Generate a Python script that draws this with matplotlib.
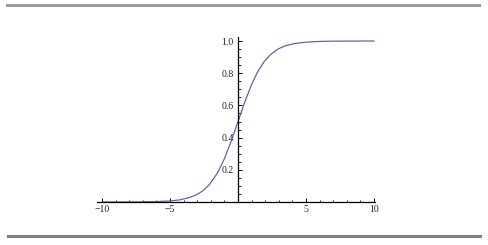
import matplotlib
matplotlib.use("Agg")
import matplotlib.pyplot as plt
from matplotlib.patches import Rectangle
from matplotlib.ticker import MultipleLocator, FixedLocator

# sample points (polyline as drawn)
x = [-10, -9, -8, -7, -6, -5, -4.3, -3.6, -3.0, -2.6, -2.1, -1.5,
     -1.0, -0.5, 0.0, 0.5, 1.0, 1.4, 1.9, 2.4, 3.0, 3.5, 4.2, 5, 6, 7, 8, 9, 10]
y = [0.0000, 0.0001, 0.0003, 0.0009, 0.0025, 0.0067, 0.013, 0.027, 0.047,
     0.069, 0.109, 0.182, 0.269, 0.378, 0.500, 0.622, 0.731, 0.802, 0.870,
     0.917, 0.953, 0.971, 0.985, 0.993, 0.9975, 0.9991, 0.9997, 0.9999, 1.0]

xticks = [-10, -5, 5, 10]
xticklabels = ["\u221210", "\u22125", "5", "10"]
yticks = [0.2, 0.4, 0.6, 0.8, 1.0]
yticklabels = ["0.2", "0.4", "0.6", "0.8", "1.0"]

W, H = 488, 245
fig = plt.figure(figsize=(W / 100, H / 100), dpi=100)
fig.patch.set_facecolor("white")

# gray rules top and bottom
fig.add_artist(Rectangle((6 / W, 1 - 6.8 / H), 475 / W, 2.8 / H,
                         transform=fig.transFigure, color="#999999", lw=0))
fig.add_artist(Rectangle((7 / W, 1 - 238 / H), 475 / W, 2.8 / H,
                         transform=fig.transFigure, color="#808080", lw=0))

ax = fig.add_axes([97 / W, (H - 202) / H, 278 / W, 165 / H])
ax.plot(x, y, color="#5a5aaa", lw=0.85)
ax.set_xlim(-10.37, 10.07)
ax.set_ylim(0, 1.025)

for s in ["top", "right"]:
    ax.spines[s].set_visible(False)
ax.spines["left"].set_position(("data", 0))
ax.spines["bottom"].set_position(("data", 0))
for s in ["left", "bottom"]:
    ax.spines[s].set_linewidth(0.9)
    ax.spines[s].set_color("black")

ax.xaxis.set_major_locator(FixedLocator(xticks))
ax.set_xticklabels(xticklabels)
ax.xaxis.set_minor_locator(MultipleLocator(1))
ax.yaxis.set_major_locator(FixedLocator(yticks))
ax.set_yticklabels(yticklabels)
ax.yaxis.set_minor_locator(MultipleLocator(0.05))

ax.tick_params(which="major", direction="in", length=3.2, width=0.7,
               labelsize=7, pad=2, labelcolor="#222222")
ax.tick_params(which="minor", direction="in", length=1.8, width=0.6)
ax.tick_params(axis="y", pad=3)
for lab in ax.get_xticklabels() + ax.get_yticklabels():
    lab.set_family("Liberation Serif")

fig.savefig("out.png", dpi=100, facecolor="white")
